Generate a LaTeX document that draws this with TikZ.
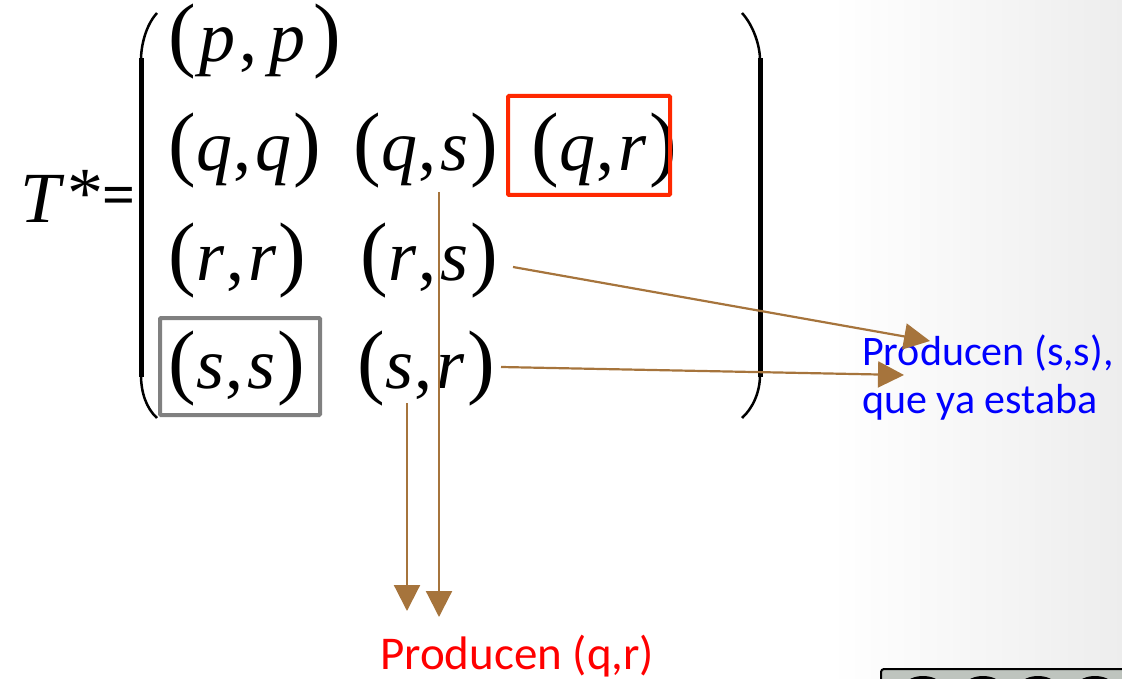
\documentclass[tikz,border=0pt]{standalone}
\usepackage{fontspec}
\setmainfont{Liberation Serif}
\newfontfamily\labfont{Carlito}
\usetikzlibrary{arrows.meta}
\definecolor{brn}{RGB}{166,116,60}
\definecolor{redbox}{RGB}{255,40,0}
\definecolor{labblue}{RGB}{0,0,255}
\definecolor{labred}{RGB}{255,0,0}
\definecolor{widget}{RGB}{190,196,190}
\newcommand\bigp[1]{{\fontsize{83}{83}\selectfont#1}}
\newcommand\pair[3][4pt]{\bigp{(}\kern1pt\textit{#2}\kern1pt,\kern#1\textit{#3}\kern2pt\bigp{)}}
\tikzset{
  entry/.style={inner sep=0pt, anchor=base west, font=\fontsize{72}{72}\selectfont},
  brarrow/.style={draw=brn, line width=2.2pt, -{Triangle[length=26pt,width=26pt]}},
  lab/.style={inner sep=0pt, anchor=base west, align=left},
}
\begin{document}
\begin{tikzpicture}[x=1pt,y=-1pt]
\useasboundingbox (0,0) rectangle (1122,679);
\shade[left color=white, right color=black!7] (830,0) rectangle (1122,679);
% T*=
\node[entry] (T) at (20,223) {\textit{T}};
\node[entry] (star) at (67,218) {*};
\node[inner sep=0pt, anchor=base west, font=\fontsize{58}{58}\selectfont\bfseries] (eq) at (102,215) {=};
% parentheses
\draw[line width=2.5pt] (157,13) .. controls (146,25) and (141,45) .. (141,60);
\draw[line width=5pt] (141,58) -- (141,377);
\draw[line width=2.5pt] (141,375) .. controls (141,392) and (146,408) .. (157,418);
\draw[line width=2.5pt] (742,13) .. controls (753,25) and (760,45) .. (760,60);
\draw[line width=5pt] (760,58) -- (760,377);
\draw[line width=2.5pt] (760,375) .. controls (760,392) and (753,408) .. (742,418);
% entries
\node[entry] (pp) at (168,62) {\bigp{(}\kern4pt\textit{p}\kern4pt,\kern12pt\textit{p}\kern8pt\bigp{)}};
\node[entry] (qq) at (168,171) {\pair{q}{q}};
\node[entry] (qs) at (353,171) {\pair{q}{s}};
\node[entry] (qr) at (531,171) {\pair{q}{r}};
\node[entry] (rr) at (168,280) {\pair{r}{r}};
\node[entry] (rs) at (360,280) {\pair{r}{s}};
\node[entry] (ss) at (168,388) {\pair{s}{s}};
\node[entry] (sr) at (357,388) {\pair{s}{r}};
% boxes
\draw[redbox, line width=4pt, rounded corners=1pt] (508,96) rectangle (670,195);
\draw[black!50, line width=4pt, rounded corners=1pt] (160,318) rectangle (320,415);
% labels
\node[lab, text=labblue, font=\labfont\fontsize{42}{48}\selectfont] (lb) at (862,413) {Producen (s,s),\\que ya estaba};
\node[lab, text=labred, font=\labfont\fontsize{47}{47}\selectfont] (lr) at (380,669) {Producen (q,r)};
% arrows
\coordinate (a1s) at (513,267);
\coordinate (a1e) at (930,341);
\coordinate (a2s) at (501,367);
\coordinate (a2e) at (904,375);
\coordinate (a3s) at (439,192);
\coordinate (a3e) at (439,617);
\coordinate (a4s) at (407,403);
\coordinate (a4e) at (407,611);
\draw[brarrow] (a1s) -- (a1e);
\draw[brarrow] (a2s) -- (a2e);
\draw[brarrow] (a3s) -- (a3e);
\draw[brarrow] (a4s) -- (a4e);
% widget at bottom right
\begin{scope}
\clip (0,0) rectangle (1122,679);
\draw[fill=widget, line width=2pt, rounded corners=3pt] (881,669) rectangle (1140,720);
\begin{scope}
\clip (882,670) rectangle (1140,720);
\foreach \cx in {923,983,1038,1095} {
  \fill[black] (\cx,706) circle (30);
}
\end{scope}
\end{scope}
\end{tikzpicture}
\end{document}
